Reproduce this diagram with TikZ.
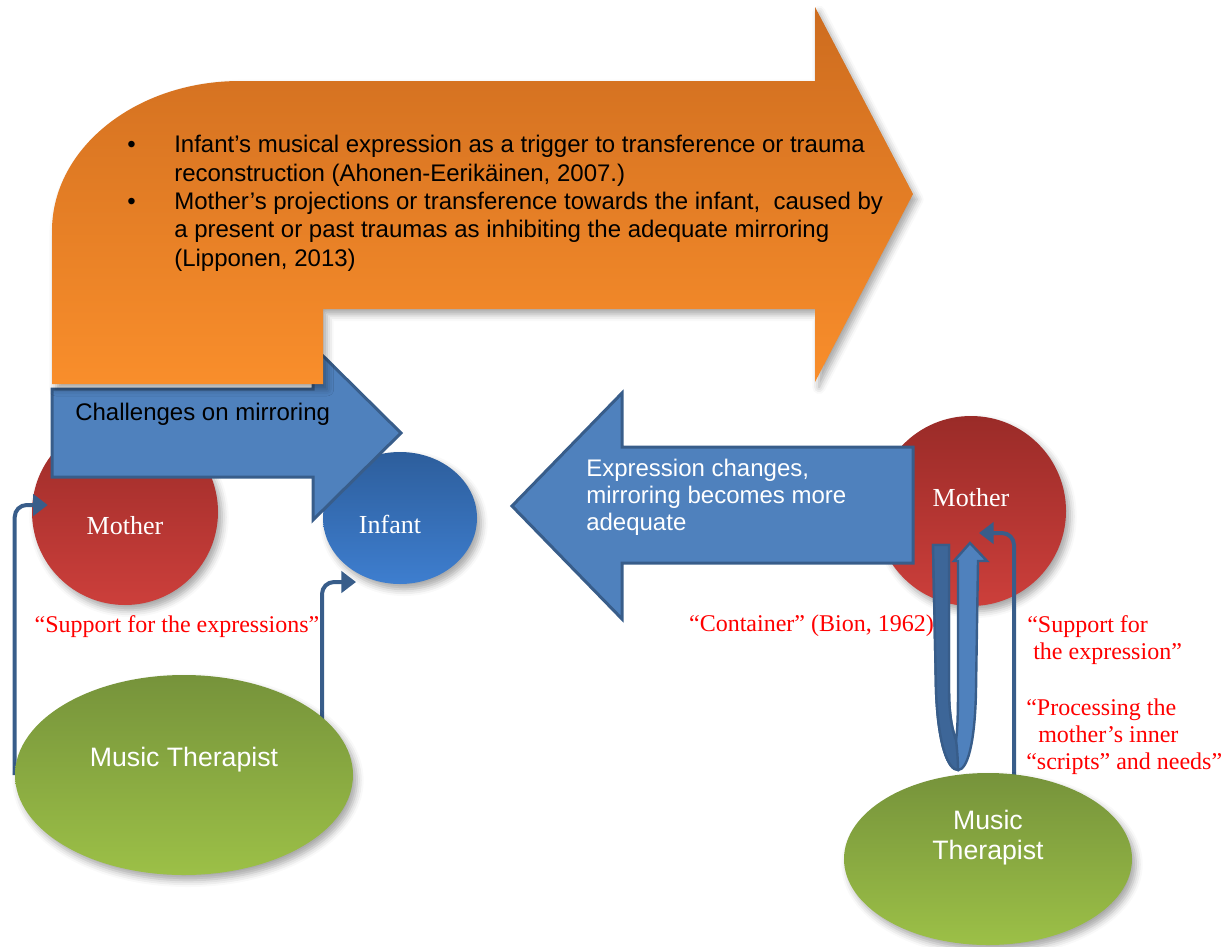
\documentclass[tikz,border=0pt]{standalone}
\usepackage{fontspec}
\setmainfont{Liberation Serif}
\setsansfont{Liberation Sans}
\usetikzlibrary{arrows.meta,shapes.geometric,shadows.blur}

\definecolor{orangeTop}{HTML}{CD6C1F}
\definecolor{orangeBot}{HTML}{F98E2B}
\definecolor{blueFill}{HTML}{4F81BD}
\definecolor{blueEdge}{HTML}{385D8A}
\definecolor{blueDark}{HTML}{3D6698}
\definecolor{redTop}{HTML}{9A2B28}
\definecolor{redBot}{HTML}{CC3F3B}
\definecolor{infTop}{HTML}{2D5E9C}
\definecolor{infBot}{HTML}{3E7ECF}
\definecolor{greenTop}{HTML}{76933B}
\definecolor{greenBot}{HTML}{9CC047}
\definecolor{noteRed}{HTML}{FF0000}

\pgfdeclarelayer{shapes}
\pgfdeclarelayer{links}
\pgfsetlayers{shapes,links,main}

\tikzset{
  softshadow/.style={blur shadow={shadow xshift=3pt, shadow yshift=-4pt,
      shadow blur radius=5pt, shadow opacity=35}},
  disc/.style={circle, inner sep=0pt, softshadow},
  oval/.style={ellipse, inner sep=0pt, softshadow},
  motherdisc/.style={disc, top color=redTop, bottom color=redBot},
  therapist/.style={oval, top color=greenTop, bottom color=greenBot},
  blockarrow/.style={fill=blueFill, draw=blueEdge, line width=2.25pt, line join=miter},
  conn/.style={draw=blueEdge, line width=3pt, rounded corners=9pt,
      -{Triangle[length=11pt,width=16pt]}},
  serifwhite/.style={inner sep=0pt, text=white, font=\fontsize{19.5}{22}\selectfont},
  sanswhite/.style={inner sep=0pt, text=white, font=\sffamily\fontsize{20}{22.5}\selectfont},
  note/.style={inner sep=0pt, text=noteRed, font=\fontsize{18}{20.25}\selectfont},
  arrowtext/.style={inner sep=0pt, font=\sffamily\fontsize{18}{21.2}\selectfont},
}

\begin{document}
\begin{tikzpicture}[x=0.75pt, y=-0.75pt]
\useasboundingbox (0,0) rectangle (1231,946);

% the two music therapists
\node[therapist, minimum width=253.5pt, minimum height=150pt] (mt1) at (184,775) {};
\node[therapist, minimum width=216pt, minimum height=129pt] (mt2) at (988,859) {};

\begin{pgfonlayer}{shapes}
  \node[motherdisc, minimum size=139.5pt] (m1) at (125,512) {};
  \node[oval, top color=infTop, bottom color=infBot,
        minimum width=115.5pt, minimum height=99pt] (inf) at (400,518) {};
  \node[motherdisc, minimum size=142.5pt] (m2) at (971,511) {};

  % arrow: challenges on mirroring
  \filldraw[blockarrow] (52,389) -- (313,389) -- (313,346) -- (401,433)
      -- (313,520) -- (313,477) -- (52,477) -- cycle;

  % bent orange arrow
  \shade[top color=orangeTop, bottom color=orangeBot, softshadow]
      (52,384) -- (52,231) .. controls (52,148) and (136,81) .. (240,81)
      -- (815,81) -- (815,7) -- (913,194) -- (815,382) -- (815,309)
      -- (323,309) -- (323,384) -- cycle;

  % arrow back towards the infant
  \filldraw[blockarrow] (913,447) -- (622,447) -- (622,393) -- (512,506)
      -- (622,619) -- (622,563) -- (913,563) -- cycle;
\end{pgfonlayer}

\begin{pgfonlayer}{links}
  % support for the expressions
  \draw[conn] (mt1.west) |- ([xshift=12pt,yshift=5.25pt]m1.west);
  \draw[conn] ([xshift=103.5pt]mt1.center) |- ([xshift=-33pt,yshift=-48pt]inf.center);
  \draw[conn] ([xshift=19.5pt]mt2.center) |- ([xshift=6pt,yshift=-16.5pt]m2.center);

  % container: U-turn arrow
  \filldraw[fill=blueFill, draw=blueEdge, line width=1.8pt, line join=miter]
      (933,545) -- (936,690) .. controls (938,745) and (948,770) .. (958,770)
      .. controls (967,770) and (975,745) .. (976,690) -- (978,561)
      -- (987,561) -- (970,543) -- (954,561) -- (958,561) -- (958,690)
      .. controls (958,720) and (957,735) .. (956,740)
      .. controls (954,735) and (949,720) .. (949,690) -- (949,545) -- cycle;
  \filldraw[fill=blueDark, draw=blueEdge, line width=1.8pt, line join=miter]
      (933,545) -- (936,690) .. controls (938,745) and (948,770) .. (958,770)
      .. controls (958,760) and (957,748) .. (956,740)
      .. controls (954,735) and (949,720) .. (949,690) -- (949,545) -- cycle;
\end{pgfonlayer}

% labels in the shapes (multi-line nodes sit on their last baseline)
\node[serifwhite, anchor=base] (t-m1) at (125,534) {Mother};
\node[serifwhite, anchor=base] (t-inf) at (390,533) {Infant};
\node[serifwhite, anchor=base] (t-m2) at (971,506) {Mother};
\node[sanswhite, anchor=base] (t-mt1) at (184,766) {Music Therapist};
\node[sanswhite, anchor=base, align=center] (t-mt2) at (988,859) {Music\\Therapist};

% texts on the arrows
\node[arrowtext, anchor=base west, align=left] (bul) at (127,266)
  {\makebox[35.25pt][l]{\textbullet}Infant’s musical expression as a trigger to transference or trauma\\
   \hspace*{35.25pt}reconstruction (Ahonen-Eerikäinen, 2007.)\\
   \makebox[35.25pt][l]{\textbullet}Mother’s projections or transference towards the infant,~ caused by\\
   \hspace*{35.25pt}a present or past traumas as inhibiting the adequate mirroring\\
   \hspace*{35.25pt}(Lipponen, 2013)};
\node[arrowtext, anchor=base west] (chal) at (75,420) {Challenges on mirroring};
\node[arrowtext, text=white, anchor=base west, align=left,
      font=\sffamily\fontsize{18}{19.9}\selectfont] (expr) at (586,530)
  {Expression changes,\\mirroring becomes more\\adequate};

% red notes
\node[note, anchor=base] (n-sup1) at (177,632) {“Support for the expressions”};
\node[note, anchor=base east] (n-cont) at (934,631) {“Container” (Bion, 1962)};
\node[note, anchor=base west, align=left] (n-sup2) at (1027,659)
  {“Support for\\\hspace*{4.5pt}the expression”};
\node[note, anchor=base west, align=left] (n-proc) at (1026,769)
  {“Processing the\\\hspace*{9pt}mother’s inner\\“scripts” and needs”};
\end{tikzpicture}
\end{document}
